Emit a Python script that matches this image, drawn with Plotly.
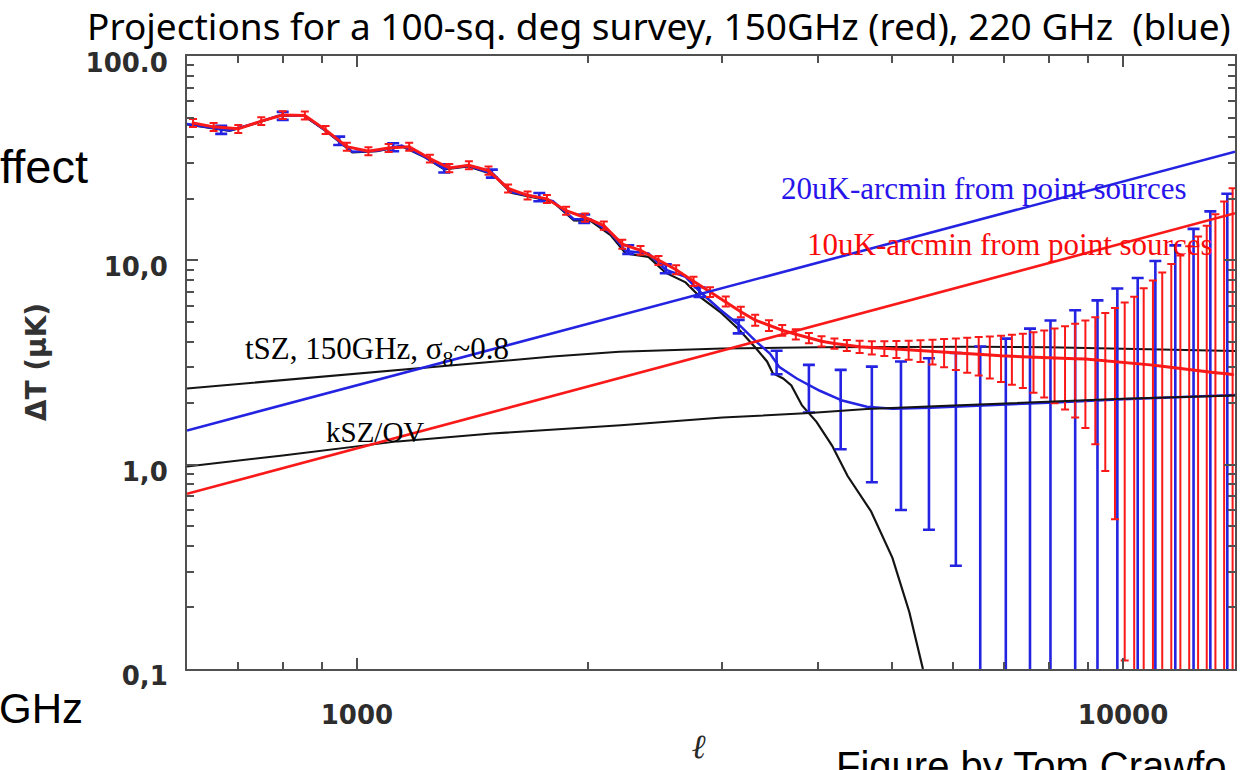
import math
import plotly.graph_objects as go

# ---------------------------------------------------------------- data
# 150 GHz band powers (multipole bin centres, Delta T in uK, 1-sigma errors)
ell_150 = [611, 650, 700, 750, 800, 855, 910, 970, 1035, 1100, 1170, 1245, 1320, 1400,
           1485, 1575, 1670, 1770, 1875, 1985, 2100, 2220, 2345, 2475, 2610, 2750, 2890,
           3030, 3170, 3310, 3450, 3590, 3740, 3890, 4040, 4200, 4360, 4530, 4700, 4880,
           5060, 5250, 5440, 5640, 5840, 6050, 6260, 6480, 6700, 6930, 7160, 7400, 7640,
           7890, 8140, 8400, 8660, 8930, 9200, 9480, 9760, 10050, 10340, 10640, 10940,
           11250, 11560, 11880, 12200, 12530, 12860, 13200, 13550, 13900]
dt_150 = [47.0, 45.0, 44.0, 48.0, 51.4, 51.2, 43.5, 36.0, 34.2, 35.5, 36.0, 31.5, 28.3, 29.2,
          27.5, 22.5, 20.8, 20.0, 17.5, 16.2, 14.8, 12.0, 11.2, 10.0, 9.0, 7.9, 7.0,
          6.3, 5.6, 5.1, 4.8, 4.55, 4.35, 4.17, 4.02, 3.92, 3.84, 3.78, 3.74, 3.71,
          3.68, 3.65, 3.62, 3.59, 3.56, 3.53, 3.50, 3.47, 3.44, 3.41, 3.39, 3.37, 3.35,
          3.33, 3.32, 3.31, 3.30, 3.29, 3.26, 3.23, 3.19, 3.16, 3.13, 3.10, 3.07,
          3.03, 2.99, 2.96, 2.92, 2.89, 2.86, 2.82, 2.79, 2.76]
err_150 = [2.1, 2.0, 2.0, 2.1, 2.3, 2.3, 2.0, 1.65, 1.55, 1.6, 1.6, 1.4, 1.3, 1.3,
           1.25, 1.0, 0.95, 0.9, 0.8, 0.75, 0.7, 0.6, 0.55, 0.5, 0.46, 0.42, 0.39,
           0.36, 0.33, 0.31, 0.29, 0.27, 0.25, 0.24, 0.23, 0.23, 0.24, 0.26, 0.28, 0.31,
           0.35, 0.39, 0.44, 0.5, 0.56, 0.62, 0.68, 0.74, 0.8, 0.87, 0.93, 1.0, 1.1,
           1.2, 1.32, 1.45, 1.6, 1.78, 2.0, 2.3, 2.65, 3.05, 3.5, 4.2, 4.9,
           5.7, 6.6, 7.6, 8.8, 10.2, 11.9, 14.0, 16.6, 19.8]

# 220 GHz band powers
ell_220 = [665, 800, 948, 1115, 1300, 1500, 1730, 1980, 2260, 2530, 2800, 3150, 3530, 3890,
           4280, 4700, 5130, 5580, 6050, 6510, 7030, 7560, 8040, 8660, 9260, 9830, 10450,
           11020, 11700, 12360, 13000, 13680]
dt_220 = [43.6, 51.0, 38.5, 35.8, 28.2, 26.6, 20.4, 16.0, 11.3, 9.1, 7.0, 4.75, 3.19, 2.44,
          2.05, 1.92, 1.90, 1.90, 1.92, 1.94, 1.97, 1.99, 2.01, 2.04, 2.06, 2.08, 2.10,
          2.12, 2.14, 2.16, 2.17, 2.18]
err_220 = [2.0, 2.3, 1.8, 1.6, 1.3, 1.2, 0.95, 0.75, 0.55, 0.45, 0.38, 0.36, 0.42, 0.64,
           0.86, 1.1, 1.3, 1.42, 1.6, 1.85, 2.17, 2.64, 3.07, 3.66, 4.31, 5.2, 6.1,
           7.8, 9.7, 12.1, 15.2, 19.0]

# 220 GHz model curve (CMB + kSZ)
ell_220_model = [600, 682, 735, 792, 853, 914, 986, 1062, 1144, 1225, 1300, 1397, 1506, 1589,
                 1713, 1802, 1919, 2018, 2143, 2243, 2402, 2528, 2685, 2807, 2977, 3160,
                 3320, 3460, 3560, 3750, 4020, 4300, 4630, 5000, 5600, 6500, 8000, 10000,
                 12000, 14000]
dt_220_model = [46.5, 43.2, 46.8, 51.2, 51.2, 42.7, 34.0, 34.4, 36.4, 32.2, 28.1, 29.0, 26.5,
                21.6, 20.4, 19.5, 15.9, 15.9, 13.6, 11.1, 10.8, 9.0, 8.3, 7.0, 5.75, 4.8,
                4.0, 3.5, 3.0, 2.64, 2.3, 2.06, 1.92, 1.88, 1.90, 1.94, 2.01, 2.09,
                2.15, 2.19]

# primary CMB
ell_cmb = [600, 682, 735, 792, 853, 914, 986, 1062, 1144, 1225, 1300, 1397, 1506, 1589,
           1713, 1802, 1919, 2018, 2143, 2243, 2402, 2528, 2685, 2807, 2977, 3150, 3320,
           3430, 3490, 3600, 3690, 3810, 3980, 4170, 4370, 4690, 5000, 5260, 5480, 5600]
dt_cmb = [46.3, 43.0, 46.6, 51.0, 51.0, 42.5, 33.8, 34.2, 36.2, 32.0, 27.9, 28.8, 26.3, 21.4,
          20.2, 19.3, 15.7, 15.6, 13.3, 10.8, 10.4, 8.7, 7.8, 6.6, 5.6, 4.6, 3.7,
          3.2, 2.8, 2.64, 2.44, 1.95, 1.62, 1.24, 0.88, 0.59, 0.35, 0.19, 0.10, 0.075]

# thermal SZ at 150 GHz (sigma_8 ~ 0.8)
ell_tsz = [600, 800, 1000, 1200, 1500, 1800, 2200, 2600, 3000, 4000, 5000, 6400, 8000,
           10000, 14000]
dt_tsz = [2.36, 2.59, 2.79, 2.96, 3.18, 3.38, 3.57, 3.65, 3.70, 3.76, 3.78, 3.78, 3.75,
          3.70, 3.60]

# kinetic SZ / Ostriker-Vishniac
ell_ksz = [600, 800, 1130, 1500, 2210, 3000, 3900, 4630, 6000, 8000, 10000, 14000]
dt_ksz = [0.98, 1.11, 1.30, 1.42, 1.56, 1.70, 1.79, 1.87, 1.95, 2.04, 2.10, 2.18]

# residual point-source noise levels
ell_ps = [600, 14000]
dt_ps_20 = [1.47, 34.0]
dt_ps_10 = [0.72, 17.0]

# axis ticks
x_tickvals = [1000, 10000]
x_ticktext = ["1000", "10000"]
y_tickvals = [0.1, 1, 10, 100]
y_ticktext = ["0,1", "1,0", "10,0", "100.0"]

# ---------------------------------------------------------------- styling
RED = "rgb(250,25,25)"
BLUE = "rgb(35,35,225)"
BLACK = "rgb(20,20,20)"
AXIS = "rgb(80,80,80)"

W, H = 1241, 770
ML, MR, MT, MB = 187, 4, 56, 101


def px(x):
    return (x - ML) / (W - ML - MR)


def py(y):
    return (H - MB - y) / (H - MT - MB)


fig = go.Figure()

fig.add_trace(go.Scatter(x=ell_tsz, y=dt_tsz, mode="lines",
                         line=dict(color=BLACK, width=2)))
fig.add_trace(go.Scatter(x=ell_cmb, y=dt_cmb, mode="lines",
                         line=dict(color=BLACK, width=2.2)))

# 220 GHz
fig.add_trace(go.Scatter(x=ell_220_model, y=dt_220_model, mode="lines",
                         line=dict(color=BLUE, width=2.5)))
fig.add_trace(go.Scatter(x=ell_220, y=dt_220, mode="markers",
                         marker=dict(size=3, color=BLUE),
                         error_y=dict(type="data", array=err_220, color=BLUE,
                                      thickness=2.6, width=6)))

# 150 GHz
fig.add_trace(go.Scatter(x=ell_150, y=dt_150, mode="lines+markers",
                         line=dict(color=RED, width=3),
                         marker=dict(size=3, color=RED),
                         error_y=dict(type="data", array=err_150, color=RED,
                                      thickness=2, width=4)))

fig.add_trace(go.Scatter(x=ell_ksz, y=dt_ksz, mode="lines",
                         line=dict(color=BLACK, width=2)))
fig.add_trace(go.Scatter(x=ell_ps, y=dt_ps_20, mode="lines",
                         line=dict(color=BLUE, width=2.6)))
fig.add_trace(go.Scatter(x=ell_ps, y=dt_ps_10, mode="lines",
                         line=dict(color=RED, width=2.6)))

serif = "Liberation Serif"
annotations = [
    dict(x=math.log10(3556), y=math.log10(22.4), xref="x", yref="y",
         text="20uK-arcmin from point sources", showarrow=False,
         xanchor="left", yanchor="middle",
         font=dict(family=serif, size=31, color="rgb(40,20,235)")),
    dict(x=math.log10(3846), y=math.log10(12.0), xref="x", yref="y",
         text="10uK-arcmin from point sources", showarrow=False,
         xanchor="left", yanchor="middle",
         font=dict(family=serif, size=31, color="rgb(250,10,10)")),
    dict(x=math.log10(711), y=math.log10(3.61), xref="x", yref="y",
         text="tSZ, 150GHz, σ<sub>8</sub>~0.8", showarrow=False,
         xanchor="left", yanchor="middle",
         font=dict(family=serif, size=31, color="black")),
    dict(x=math.log10(906), y=math.log10(1.45), xref="x", yref="y",
         text="kSZ/OV", showarrow=False,
         xanchor="left", yanchor="middle",
         font=dict(family=serif, size=29, color="black")),
    # headline and slide text
    dict(x=px(660), y=py(25), xref="paper", yref="paper",
         text="Projections for a 100-sq. deg survey, 150GHz (red), 220 GHz&nbsp; (blue)",
         showarrow=False, xanchor="center", yanchor="middle",
         font=dict(family="Noto Sans", size=37, color="black")),
    dict(x=px(-2), y=py(166), xref="paper", yref="paper", text="ffect",
         showarrow=False, xanchor="left", yanchor="middle",
         font=dict(family="Liberation Sans", size=47, color="black")),
    dict(x=px(-3), y=py(708), xref="paper", yref="paper", text="GHz",
         showarrow=False, xanchor="left", yanchor="middle",
         font=dict(family="Liberation Sans", size=42, color="black")),
    dict(x=px(835), y=py(742), xref="paper", yref="paper", text="Figure by Tom Crawfo",
         showarrow=False, xanchor="left", yanchor="top",
         font=dict(family="Liberation Sans", size=40, color="black")),
    # axis titles
    dict(x=px(36), y=py(362), xref="paper", yref="paper", text="ΔT (μK)",
         textangle=-90, showarrow=False, xanchor="center", yanchor="middle",
         font=dict(family="DejaVu Sans", size=28, color="rgb(50,50,50)", weight="bold")),
    dict(x=px(700), y=py(746), xref="paper", yref="paper", text="<i>ℓ</i>",
         showarrow=False, xanchor="center", yanchor="middle",
         font=dict(family="DejaVu Serif", size=34, color="rgb(40,40,40)", weight="bold")),
]

x_minor = [700, 800, 900, 2000, 3000, 4000, 5000, 6000, 7000, 8000, 9000]
y_minor = [m * 10.0 ** e for e in (-1, 0, 1) for m in range(2, 10)]

tick_font = dict(family="DejaVu Sans", size=26, color="rgb(45,45,45)", weight="bold")

fig.update_layout(
    width=W, height=H,
    margin=dict(l=ML, r=MR, t=MT, b=MB),
    paper_bgcolor="white", plot_bgcolor="white",
    showlegend=False,
    annotations=annotations,
    xaxis=dict(type="log", range=[math.log10(600), math.log10(14000)],
               tickmode="array", tickvals=x_tickvals, ticktext=x_ticktext,
               ticks="inside", ticklen=11, tickwidth=2, tickcolor=AXIS,
               minor=dict(tickmode="array", tickvals=x_minor, ticks="inside",
                          ticklen=7, tickwidth=1.5, tickcolor=AXIS, showgrid=False),
               showline=True, linewidth=2, linecolor=AXIS, mirror="ticks",
               showgrid=False, zeroline=False, tickfont=tick_font,
               ticklabelstandoff=22),
    yaxis=dict(type="log", range=[-1, 2],
               tickmode="array", tickvals=y_tickvals, ticktext=y_ticktext,
               ticks="inside", ticklen=11, tickwidth=2, tickcolor=AXIS,
               minor=dict(tickmode="array", tickvals=y_minor, ticks="inside",
                          ticklen=7, tickwidth=1.5, tickcolor=AXIS, showgrid=False),
               showline=True, linewidth=2, linecolor=AXIS, mirror="ticks",
               showgrid=False, zeroline=False, tickfont=tick_font,
               ticklabelstandoff=12, ticklabelshift=7),
)

fig.write_html("out.html")
